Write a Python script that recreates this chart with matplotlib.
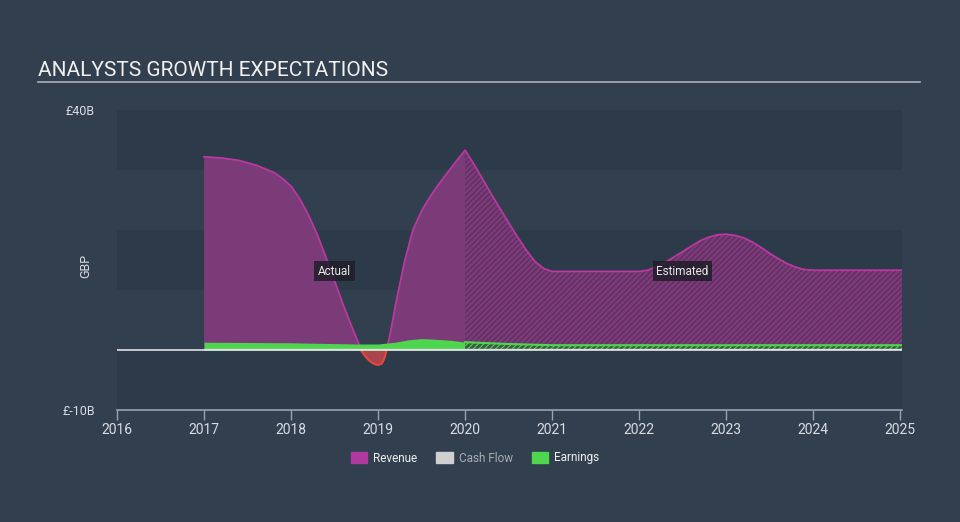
import numpy as np
import matplotlib
matplotlib.use("Agg")
import matplotlib.pyplot as plt
from matplotlib.patches import Patch

plt.rcParams['font.family'] = ['Roboto', 'DejaVu Sans']

# ---- data (GBP billions) ----
rev_x = [2017.0, 2017.2, 2017.4, 2017.6, 2017.8, 2017.9, 2018.0, 2018.1, 2018.2, 2018.3,
         2018.4, 2018.5, 2018.6, 2018.7, 2018.78, 2018.8, 2018.85, 2018.9, 2018.95, 2019.0,
         2019.04, 2019.07, 2019.1, 2019.15, 2019.2, 2019.3, 2019.4, 2019.5, 2019.6, 2019.7,
         2019.8, 2019.9, 2020.0, 2020.1, 2020.2, 2020.3, 2020.4, 2020.5, 2020.6, 2020.7,
         2020.8, 2020.9, 2021.0, 2022.0, 2022.1, 2022.2, 2022.3, 2022.4, 2022.5, 2022.6,
         2022.7, 2022.8, 2022.9, 2023.0, 2023.1, 2023.2, 2023.3, 2023.4, 2023.5, 2023.6,
         2023.7, 2023.8, 2023.9, 2024.0, 2025.02]
rev_y = [32.2, 32.0, 31.6, 30.8, 29.6, 28.6, 27.3, 25.2, 22.5, 19.3,
         15.5, 11.5, 7.5, 3.8, 1.0, 0.0, -1.0, -1.8, -2.3, -2.5,
         -2.3, -1.5, 0.0, 3.5, 7.5, 14.5, 20.0, 23.2, 25.6, 27.7,
         29.6, 31.5, 33.3, 31.0, 28.5, 26.0, 23.6, 21.2, 18.9, 16.7,
         14.8, 13.6, 13.1, 13.1, 13.3, 13.9, 14.6, 15.5, 16.4, 17.3,
         18.2, 18.8, 19.2, 19.3, 19.1, 18.7, 18.0, 17.1, 16.1, 15.2,
         14.4, 13.8, 13.4, 13.3, 13.3]

earn_x = [2017.0, 2018.0, 2018.75, 2019.0, 2019.2, 2019.35, 2019.5, 2019.65, 2019.85,
          2020.0, 2020.5, 2021.0, 2022.0, 2023.0, 2024.0, 2025.02]
earn_y = [1.3, 1.2, 1.0, 1.0, 1.3, 1.7, 1.9, 1.8, 1.6, 1.3, 1.0, 0.8, 0.8, 0.8, 0.8, 0.8]

cf_x = [2017.0, 2018.0, 2019.0, 2020.0, 2021.0, 2022.0, 2023.0, 2024.0, 2025.02]
cf_y = [0.25, 0.25, 0.25, 0.25, 0.25, 0.25, 0.25, 0.25, 0.25]

split_year = 2020.0
x_ticks = [2016, 2017, 2018, 2019, 2020, 2021, 2022, 2023, 2024, 2025]
y_ticks = [40, -10]
y_tick_labels = ['£40B', '£-10B']

# ---- style ----
BG = '#323f4e'
BAND = '#2d3a49'
REV_FILL = '#7b3a78'
REV_LINE = '#b8399f'
NEG_FILL = '#a9454b'
NEG_LINE = '#e8453c'
EARN = '#4fd64f'
CF = '#d9d2c0'
TXT = '#d8dde2'

fig = plt.figure(figsize=(9.6, 5.22), dpi=100, facecolor=BG)
ax = fig.add_axes([117/960, 1-410/522, 785/960, 300/522])
ax.set_facecolor(BG)
ax.set_xlim(2016, 2025.02)
ax.set_ylim(-10, 40)

# bands
for lo in (30, 10, -10):
    ax.axhspan(lo, lo + 10, color=BAND, zorder=0, lw=0)

rx = np.array(rev_x); ry = np.array(rev_y)
act = rx <= split_year
est = rx >= split_year

# actual revenue
ax.fill_between(rx[act], 0, ry[act], where=ry[act] >= 0, interpolate=True,
                color=REV_FILL, lw=0, zorder=2)
ax.fill_between(rx[act], 0, ry[act], where=ry[act] <= 0, interpolate=True,
                color=NEG_FILL, lw=0, zorder=2)
# estimated revenue (hatched)
plt.rcParams['hatch.linewidth'] = 0.8
ax.fill_between(rx[est], 0, ry[est], facecolor=REV_FILL, edgecolor='#5b2c5c',
                hatch='//////', lw=0, zorder=2)
# revenue line
ax.plot(rx, np.where(ry >= -0.01, ry, np.nan), color=REV_LINE, lw=1.3, zorder=3)
neg_mask = (rx >= 2018.8) & (rx <= 2019.1)
ax.plot(rx[neg_mask], ry[neg_mask], color=NEG_LINE, lw=1.5, zorder=3)

# earnings
ex = np.array(earn_x); ey = np.array(earn_y)
ea = ex <= split_year
ee = ex >= split_year
ax.fill_between(ex[ea], 0, ey[ea], color=EARN, lw=0, zorder=4)
ax.fill_between(ex[ee], 0, ey[ee], facecolor='#3c5a48', edgecolor=EARN,
                hatch='//////', lw=0, zorder=4)
ax.plot(ex[ee], ey[ee], color=EARN, lw=1.5, zorder=5)

# cash flow
ax.plot(cf_x, cf_y, color=CF, lw=1.0, zorder=6)

# zero line
ax.axhline(0, color='#dfe3e8', lw=1.2, zorder=7)

# labels
bbox = dict(boxstyle='square,pad=0.3', fc='#1e1e28', ec='none', alpha=0.85)
ax.text(2018.5, 13.1, 'Actual', color='#e6e6e6', fontsize=8.5, ha='center', va='center',
        bbox=bbox, zorder=8)
ax.text(2022.5, 13.1, 'Estimated', color='#e6e6e6', fontsize=8.5, ha='center', va='center',
        bbox=bbox, zorder=8)

# axes styling
for s in ['top', 'right', 'left']:
    ax.spines[s].set_visible(False)
ax.spines['bottom'].set_color('#9aa3ad')
ax.spines['bottom'].set_linewidth(1.2)
ax.set_xticks(x_ticks)
ax.set_xticklabels([str(t) for t in x_ticks])
ax.tick_params(axis='x', colors='#9aa3ad', labelcolor=TXT, labelsize=10, length=7,
               width=1, pad=2)
ax.set_yticks(y_ticks)
ax.set_yticklabels(y_tick_labels)
ax.tick_params(axis='y', length=0, labelcolor=TXT, labelsize=9, pad=16)
ax.set_ylabel('GBP', color=TXT, fontsize=9, labelpad=14)
ax.yaxis.set_label_coords(-0.032, 0.48)

# title
fig.text(38/960, 1-70/522, 'ANALYSTS GROWTH EXPECTATIONS', color='#f0f0f0', fontsize=15,
         ha='left', va='center')
fig.add_artist(plt.Line2D([38/960, 920/960], [1-82/522, 1-82/522], color='#a9b1ba', lw=1.2))

# legend
handles = [Patch(color='#b0399f', label='Revenue'),
           Patch(color='#d0d0d0', label='Cash Flow'),
           Patch(color=EARN, label='Earnings')]
leg = fig.legend(handles=handles, loc='center', bbox_to_anchor=(475/960, 1-458/522),
                 ncol=3, frameon=False, fontsize=8.5, handlelength=1.4, handleheight=1.0,
                 columnspacing=1.6, handletextpad=0.5)
for t, c in zip(leg.get_texts(), ['#f0f0f0', '#a8aeb5', '#f0f0f0']):
    t.set_color(c)

fig.savefig('out.png', dpi=100, facecolor=BG)
